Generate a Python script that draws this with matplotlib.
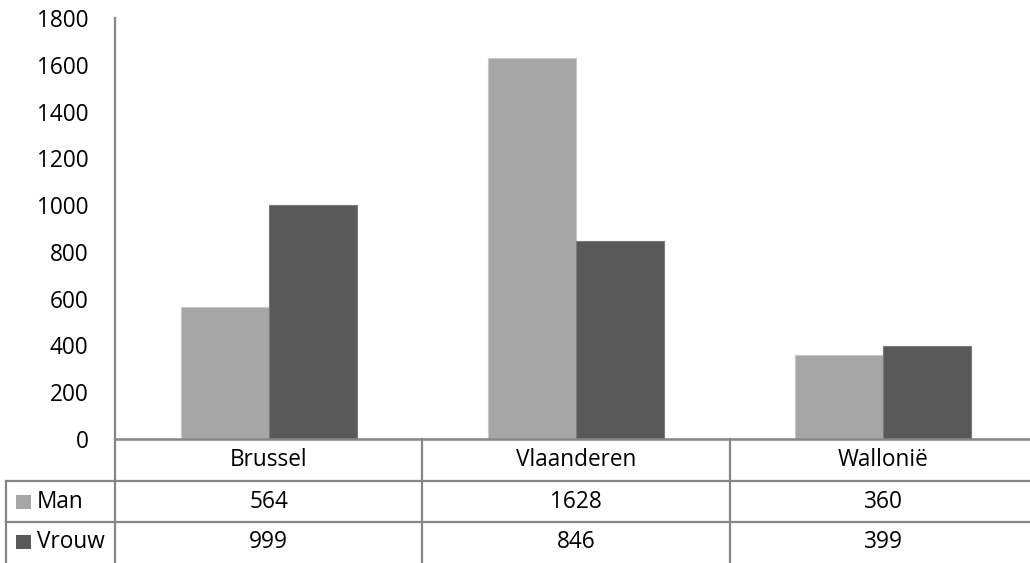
import numpy as np
import matplotlib
matplotlib.use("Agg")
import matplotlib.pyplot as plt
from matplotlib.transforms import blended_transform_factory
from matplotlib.patches import Rectangle
from matplotlib.lines import Line2D

regions = ["Brussel", "Vlaanderen", "Wallonië"]
man = [564, 1628, 360]
vrouw = [999, 846, 399]
series_names = ["Man", "Vrouw"]
yticks = list(range(0, 1801, 200))

c_man = "#a6a6a6"
c_vrouw = "#595959"
c_line = "#868686"

plt.rcParams["font.family"] = ["Open Sans", "DejaVu Sans"]
fs = 16.3

W, H = 1030, 563
fig = plt.figure(figsize=(W / 100, H / 100), dpi=100)
# axes box in pixels: left 115, right 1037 (runs past the edge), top 18, bottom 439
ax_l, ax_r, ax_t, ax_b = 115, 1037, 18, 439
ax = fig.add_axes([ax_l / W, (H - ax_b) / H, (ax_r - ax_l) / W, (ax_b - ax_t) / H])

x = np.arange(len(regions))
bw = 0.286
ax.bar(x - bw / 2, man, bw, color=c_man, edgecolor="#c8c8c8", linewidth=0.8)
ax.bar(x + bw / 2, vrouw, bw, color=c_vrouw, edgecolor="#7a7a7a", linewidth=0.8)

ax.set_xlim(-0.5, len(regions) - 0.5)
ax.set_ylim(0, 1800)
ax.set_yticks(yticks)
ax.set_yticklabels([str(v) for v in yticks], fontsize=fs)
ax.tick_params(axis="y", length=0, pad=19)
ax.tick_params(axis="x", length=0, labelbottom=False)
for s in ["top", "right"]:
    ax.spines[s].set_visible(False)
ax.spines["left"].set_color(c_line)
ax.spines["bottom"].set_color(c_line)
ax.spines["left"].set_linewidth(1.6)
ax.spines["bottom"].set_linewidth(1.8)

# data table below the plot
tr = blended_transform_factory(ax.transData, ax.transAxes)
px = 1.0 / (ax_b - ax_t)                  # one pixel in axes fraction (vertical)
ux = 1.0 / ((ax_r - ax_l) / len(regions))  # one pixel in data units (horizontal)

row_y = [-21 * px, -63 * px, -103 * px]
line_y = [-42 * px, -83 * px]
bottom_y = -140 * px
left_x = -0.5 - 109 * ux

for yy in line_y:
    ax.add_line(Line2D([left_x, len(regions) - 0.5], [yy, yy], transform=tr,
                       color=c_line, lw=1.6, clip_on=False))
for i in range(len(regions) + 1):
    xx = i - 0.5
    ax.add_line(Line2D([xx, xx], [0, bottom_y], transform=tr,
                       color=c_line, lw=1.6, clip_on=False))
ax.add_line(Line2D([left_x, left_x], [line_y[0], bottom_y], transform=tr,
                   color=c_line, lw=1.6, clip_on=False))

for i, r in enumerate(regions):
    ax.text(i, row_y[0], r, transform=tr, ha="center", va="center", fontsize=fs, clip_on=False)
    ax.text(i, row_y[1], str(man[i]), transform=tr, ha="center", va="center", fontsize=fs, clip_on=False)
    ax.text(i, row_y[2], str(vrouw[i]), transform=tr, ha="center", va="center", fontsize=fs, clip_on=False)

for name, col, yy in zip(series_names, [c_man, c_vrouw], row_y[1:]):
    ax.add_patch(Rectangle((-0.5 - 99 * ux, yy - 7 * px), 15 * ux, 14 * px, transform=tr,
                           facecolor=col, edgecolor="none", clip_on=False))
    ax.text(-0.5 - 78 * ux, yy, name, transform=tr, ha="left", va="center", fontsize=fs, clip_on=False)

fig.savefig("out.png", dpi=100)
